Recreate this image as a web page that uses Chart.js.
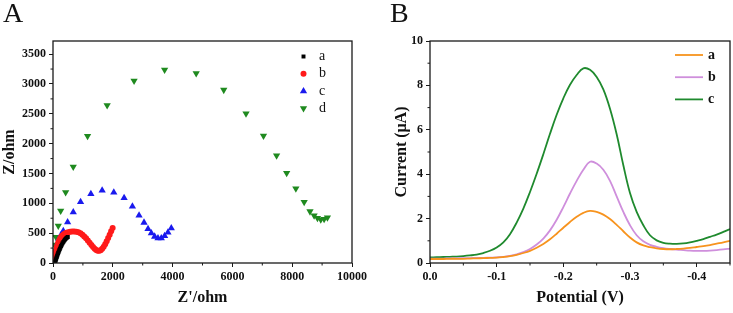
<!DOCTYPE html>
<html><head><meta charset="utf-8">
<script src="https://cdn.jsdelivr.net/npm/chart.js@4.4.0/dist/chart.umd.min.js"></script>
<style>
html,body{margin:0;padding:0;background:#fff;}
#wrap{position:relative;width:733px;height:313px;overflow:hidden;background:#fff;}
.panel{position:absolute;top:0;height:313px;}
#pa{left:0;width:370px;} #pb{left:370px;width:363px;}
.lbl{position:absolute;font-family:'Liberation Serif',serif;font-size:28px;line-height:1;color:#111;}
</style></head><body>
<div id="wrap">
<div class="panel" id="pa"><canvas id="ca" width="370" height="313"></canvas></div>
<div class="panel" id="pb"><canvas id="cb" width="363" height="313"></canvas></div>
<div class="lbl" style="left:3px;top:-1px">A</div>
<div class="lbl" style="left:390px;top:-1px">B</div>
</div>
<script>
// ---------- Panel A data (Nyquist) ----------
const seriesNamesA = ['a','b','c','d'];
const a_x = [62,72,84,97,110,124,139,155,172,190,209,229,250,272,295,320,346,373,402,432,463,495];
const a_y = [5,20,38,58,78,99,121,143,166,189,213,237,261,285,308,331,353,374,393,410,424,436];
const b_x = [30,45,60,78,98,120,145,172,200,232,268,308,352,400,452,510,572,640,710,780,850,920,985,1045,1105,1165,1225,1285,1340,1395,1445,1495,1545,1595,1645,1695,1745,1795,1845,1895,1945,1995];
const b_y = [40,80,120,165,210,255,298,338,374,406,434,458,478,494,506,516,523,527,528,525,516,497,474,446,414,378,340,302,268,238,218,207,205,214,237,272,316,366,420,474,530,588];
const c_x = [22,56,100,156,200,256,344,489,678,922,1267,1644,2033,2378,2656,2878,3044,3178,3289,3400,3511,3622,3733,3844,3956];
const c_y = [50,118,219,331,404,460,539,685,853,1022,1156,1217,1184,1089,948,797,678,572,500,443,415,415,455,511,584];
const d_x = [7,17,33,57,100,177,257,423,677,1156,1811,2711,3733,4789,5711,6456,7040,7478,7815,8122,8400,8595,8733,8845,8956,9067,9178];
const d_y = [34,84,185,303,433,623,875,1183,1611,2126,2643,3052,3237,3177,2900,2505,2130,1801,1507,1248,1020,864,795,752,727,735,760];
const A_xTicks = [0,2000,4000,6000,8000,10000];
const A_xTickLabels = ['0','2000','4000','6000','8000','10000'];
const A_xMinor = [1000,3000,5000,7000,9000];
const A_yTicks = [0,500,1000,1500,2000,2500,3000,3500];
const A_yTickLabels = ['0','500','1000','1500','2000','2500','3000','3500'];
const A_yMinor = [250,750,1250,1750,2250,2750,3250];

// ---------- Panel B data (DPV) ----------
const seriesNamesB = ['a','b','c'];
const potential = [0,-0.01,-0.02,-0.03,-0.04,-0.05,-0.06,-0.07,-0.08,-0.09,-0.10,-0.11,-0.12,-0.13,-0.14,-0.15,-0.16,-0.17,-0.18,-0.19,-0.20,-0.21,-0.22,-0.23,-0.24,-0.25,-0.26,-0.27,-0.28,-0.29,-0.30,-0.31,-0.32,-0.33,-0.34,-0.35,-0.36,-0.37,-0.38,-0.39,-0.40,-0.41,-0.42,-0.43,-0.44,-0.45];
const current_a = [0.18,0.18,0.18,0.19,0.19,0.19,0.20,0.21,0.22,0.23,0.24,0.27,0.31,0.37,0.45,0.55,0.69,0.86,1.07,1.32,1.59,1.85,2.08,2.26,2.35,2.30,2.18,1.98,1.72,1.43,1.15,0.93,0.79,0.71,0.66,0.63,0.62,0.63,0.65,0.68,0.72,0.76,0.81,0.87,0.93,1.00];
const current_b = [0.20,0.20,0.20,0.21,0.21,0.22,0.22,0.23,0.23,0.24,0.25,0.28,0.32,0.39,0.49,0.63,0.83,1.10,1.47,1.95,2.52,3.13,3.70,4.20,4.56,4.48,4.20,3.70,3.00,2.30,1.70,1.25,0.98,0.82,0.73,0.67,0.63,0.60,0.58,0.56,0.55,0.55,0.56,0.58,0.61,0.65];
const current_c = [0.25,0.26,0.27,0.28,0.29,0.31,0.34,0.38,0.45,0.55,0.70,0.93,1.30,1.82,2.45,3.20,4.02,4.90,5.82,6.68,7.42,8.03,8.47,8.77,8.70,8.38,7.82,6.95,5.80,4.40,3.15,2.30,1.70,1.25,1.02,0.91,0.87,0.86,0.88,0.93,1.00,1.08,1.18,1.28,1.40,1.53];
const B_xTicks = [0,-0.1,-0.2,-0.3,-0.4];
const B_xTickLabels = ['0.0','-0.1','-0.2','-0.3','-0.4'];
const B_xMinor = [-0.05,-0.15,-0.25,-0.35,-0.45];
const B_yTicks = [0,2,4,6,8,10];
const B_yTickLabels = ['0','2','4','6','8','10'];
const B_yMinor = [1,3,5,7,9];

Chart.defaults.font.family = "'Liberation Serif', serif";
Chart.defaults.color = '#111';

const FONT_TICK = {family:"'Liberation Serif', serif", size:12, weight:'bold'};
const FONT_TITLE = {family:"'Liberation Serif', serif", size:16, weight:'bold'};

function drawMarker(ctx, ds, x, y){
  ctx.fillStyle = ds.pointBackgroundColor;
  ctx.strokeStyle = ds.pointBackgroundColor;
  Chart.helpers.drawPoint(ctx, {pointStyle: ds.pointStyle, radius: ds.pointRadius, rotation: ds.pointRotation || 0, borderWidth: 0}, x, y);
}

const framePlugin = {
  id: 'frame',
  afterDraw(chart, args, opts){
    const {ctx, chartArea: a, scales} = chart;
    ctx.save();
    ctx.strokeStyle = '#1a1a1a';
    ctx.lineWidth = 1.3;
    ctx.strokeRect(a.left, a.top, a.right - a.left, a.bottom - a.top);
    ctx.lineWidth = 1;
    ctx.beginPath();
    (opts.xMinor || []).forEach(v => { const p = scales.x.getPixelForValue(v); ctx.moveTo(p, a.bottom); ctx.lineTo(p, a.bottom + 2.5); });
    (opts.yMinor || []).forEach(v => { const p = scales.y.getPixelForValue(v); ctx.moveTo(a.left, p); ctx.lineTo(a.left - 2.5, p); });
    ctx.stroke();
    const lg = opts.legend;
    if (lg) {
      chart.data.datasets.forEach((ds, i) => {
        const y = lg.y0 + i * lg.dy;
        if (lg.kind === 'marker') {
          drawMarker(ctx, ds, lg.x, y);
        } else {
          ctx.strokeStyle = ds.borderColor; ctx.lineWidth = ds.borderWidth;
          ctx.beginPath(); ctx.moveTo(lg.x, y); ctx.lineTo(lg.x + lg.len, y); ctx.stroke();
        }
        ctx.fillStyle = '#111';
        ctx.font = (lg.bold ? 'bold ' : '') + '14px "Liberation Serif", serif';
        ctx.textBaseline = 'middle';
        ctx.textAlign = 'left';
        ctx.fillText(ds.label, lg.tx, y);
      });
    }
    ctx.restore();
  }
};

function axis(opts){
  return Object.assign({
    type: 'linear',
    border: {display: false},
    grid: {display: true, drawOnChartArea: false, drawTicks: true, tickLength: 4, color: '#1a1a1a', lineWidth: 1},
  }, opts);
}

function pts(xs, ys){ return xs.map((x, i) => ({x: x, y: ys[i]})); }

// ---------- Chart A ----------
const styleA = [
  {color:'#000000', style:'rect', r:2.8, rot:0},
  {color:'#ff1a1a', style:'circle', r:3, rot:0},
  {color:'#1a1aee', style:'triangle', r:4.2, rot:0},
  {color:'#1f8a1f', style:'triangle', r:4.2, rot:180},
];
const seriesA = [[a_x,a_y],[b_x,b_y],[c_x,c_y],[d_x,d_y]];
new Chart(document.getElementById('ca'), {
  type: 'scatter',
  data: {
    datasets: seriesA.map((s, i) => ({
      label: seriesNamesA[i],
      data: pts(s[0], s[1]),
      pointStyle: styleA[i].style,
      pointRadius: styleA[i].r,
      pointRotation: styleA[i].rot,
      pointBackgroundColor: styleA[i].color,
      pointBorderColor: styleA[i].color,
      pointBorderWidth: 0,
      showLine: false,
    }))
  },
  options: {
    responsive: false, animation: false, events: [],
    layout: {padding: {top: 41, right: 17, left: 0, bottom: 0}},
    plugins: {
      legend: {display: false}, tooltip: {enabled: false},
      frame: {xMinor: A_xMinor, yMinor: A_yMinor, legend: {kind:'marker', x:303.5, y0:56.5, dy:17.3, tx:319, bold:false}}
    },
    scales: {
      x: axis({
        min: 0, max: 10000,
        afterBuildTicks: s => { s.ticks = A_xTicks.map(v => ({value: v})); },
        afterFit: s => { s.height = 50; },
        ticks: {font: FONT_TICK, color:'#111', padding: 3, maxRotation: 0, autoSkip: false, callback: (v, i) => A_xTickLabels[i]},
        title: {display: true, text: "Z'/ohm", font: FONT_TITLE, color:'#111', padding: {top: 0, bottom: 6}}
      }),
      y: axis({
        min: 0, max: 3720,
        afterBuildTicks: s => { s.ticks = A_yTicks.map(v => ({value: v})); },
        afterFit: s => { s.width = 53; },
        ticks: {font: FONT_TICK, color:'#111', padding: 3, autoSkip: false, callback: (v, i) => A_yTickLabels[i]},
        title: {display: true, text: 'Z/ohm', font: FONT_TITLE, color:'#111', padding: {top: 0, bottom: 0}}
      })
    }
  },
  plugins: [framePlugin]
});

// ---------- Chart B ----------
const colorsB = ['#f7931e', '#cf8fdc', '#1f8a2e'];
const currentsB = [current_a, current_b, current_c];
new Chart(document.getElementById('cb'), {
  type: 'line',
  data: {
    datasets: currentsB.map((arr, i) => ({
      label: seriesNamesB[i],
      data: pts(potential, arr),
      borderColor: colorsB[i],
      borderWidth: 1.8,
      pointRadius: 0,
      fill: false,
      tension: 0.4,
    }))
  },
  options: {
    responsive: false, animation: false, events: [],
    layout: {padding: {top: 41, right: 3, left: 0, bottom: 0}},
    plugins: {
      legend: {display: false}, tooltip: {enabled: false},
      frame: {xMinor: B_xMinor, yMinor: B_yMinor, legend: {kind:'line', x:305, len:28, y0:55, dy:22.2, tx:338, bold:true}}
    },
    scales: {
      x: axis({
        min: -0.45, max: 0, reverse: true,
        afterBuildTicks: s => { s.ticks = B_xTicks.map(v => ({value: v})); },
        afterFit: s => { s.height = 50; },
        ticks: {font: FONT_TICK, color:'#111', padding: 3, maxRotation: 0, autoSkip: false, callback: (v, i) => B_xTickLabels[i]},
        title: {display: true, text: 'Potential (V)', font: FONT_TITLE, color:'#111', padding: {top: 0, bottom: 6}}
      }),
      y: axis({
        min: 0, max: 10,
        afterBuildTicks: s => { s.ticks = B_yTicks.map(v => ({value: v})); },
        afterFit: s => { s.width = 60; },
        ticks: {font: FONT_TICK, color:'#111', padding: 3, autoSkip: false, callback: (v, i) => B_yTickLabels[i]},
        title: {display: true, text: 'Current (μA)', font: FONT_TITLE, color:'#111', padding: {top: 22, bottom: 0}}
      })
    }
  },
  plugins: [framePlugin]
});
</script>
</body></html>
